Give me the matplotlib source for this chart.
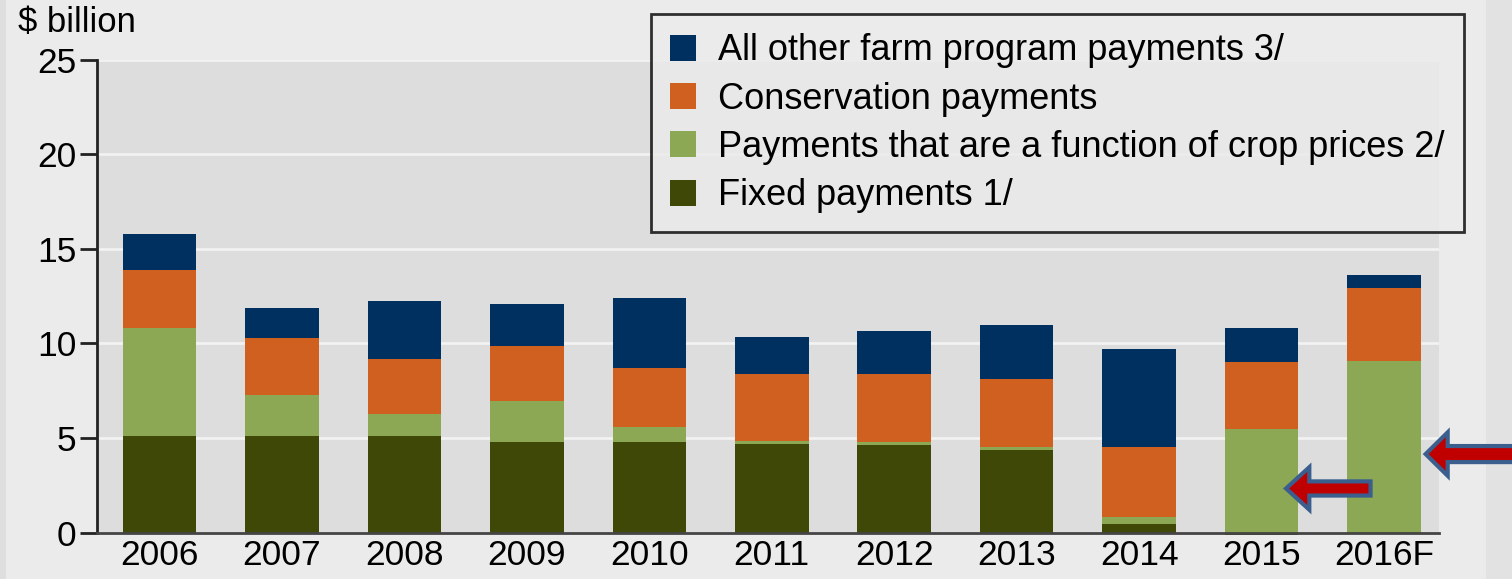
import numpy as np
import matplotlib.pyplot as plt
from matplotlib.patches import FancyArrow, Patch, Rectangle

plt.rcParams['font.family'] = ['Liberation Sans', 'DejaVu Sans']

# data ($ billion)
years = ['2006', '2007', '2008', '2009', '2010', '2011', '2012', '2013', '2014', '2015', '2016F']
fixed = [5.1, 5.1, 5.1, 4.8, 4.8, 4.7, 4.65, 4.35, 0.45, -0.15, 0.0]
price = [5.7, 2.2, 1.15, 2.15, 0.8, 0.15, 0.15, 0.15, 0.35, 5.45, 9.1]
conservation = [3.1, 3.0, 2.95, 2.9, 3.1, 3.55, 3.6, 3.6, 3.7, 3.55, 3.85]
other = [1.9, 1.6, 3.05, 2.25, 3.7, 1.95, 2.25, 2.9, 5.2, 1.8, 0.65]

labels = ['All other farm program payments 3/', 'Conservation payments',
          'Payments that are a function of crop prices 2/', 'Fixed payments 1/']
colors = ['#00305f', '#d06020', '#8ca855', '#404808']

bg = '#ebebeb'
fig = plt.figure(figsize=(15.12, 5.79), dpi=100, facecolor=bg)
# slightly darker bands at the picture edges
fig.patches.append(Rectangle((0, 0), 0.004, 1, transform=fig.transFigure,
                             facecolor='#dedede', edgecolor='none', zorder=-1))
fig.patches.append(Rectangle((0.983, 0), 0.017, 1, transform=fig.transFigure,
                             facecolor='#e2e2e2', edgecolor='none', zorder=-1))

ax = fig.add_axes([0.0642, 0.0803, 0.8876, 0.8161])
ax.set_facecolor('#dddddd')

x = np.arange(len(years))
w = 0.6
fixed = np.array(fixed)
price = np.array(price)
conservation = np.array(conservation)
other = np.array(other)

b1 = np.maximum(fixed, 0)
b2 = b1 + price
b3 = b2 + conservation
ax.bar(x, fixed, w, color=colors[3], zorder=3, clip_on=False)
ax.bar(x, price, w, bottom=b1, color=colors[2], zorder=3)
ax.bar(x, conservation, w, bottom=b2, color=colors[1], zorder=3)
ax.bar(x, other, w, bottom=b3, color=colors[0], zorder=3)

ax.set_xlim(-0.51, 10.45)
ax.set_ylim(0, 25)
ax.set_yticks([0, 5, 10, 15, 20, 25])
ax.set_xticks(x)
ax.set_xticklabels(years)
ax.grid(axis='y', color='#f2f2f2', linewidth=2, zorder=1)
ax.tick_params(axis='y', length=12, width=2, labelsize=25.5, pad=3, color='#222222')
ax.tick_params(axis='x', length=0, labelsize=25.5, pad=5)
for s in ['top', 'right']:
    ax.spines[s].set_visible(False)
ax.spines['left'].set_linewidth(2)
ax.spines['left'].set_color('#222222')
ax.spines['bottom'].set_linewidth(2)
ax.spines['bottom'].set_color('#444444')
ax.spines['bottom'].set_zorder(4)

fig.text(0.012, 0.932, '$ billion', fontsize=25, ha='left', va='bottom')

handles = [Patch(facecolor=c) for c in colors]
leg = fig.legend(handles, labels, loc='upper right', bbox_to_anchor=(0.968, 0.975),
                 fontsize=26, frameon=True, fancybox=False, facecolor=bg,
                 edgecolor='black', handlelength=0.72, handleheight=0.72,
                 handletextpad=0.62, labelspacing=0.37, borderpad=0.52,
                 borderaxespad=0)
leg.get_frame().set_linewidth(2)

# arrows pointing to 2015 and 2016F
a1 = FancyArrow(9.89, 2.33, -0.69, 0, width=0.75, head_width=2.25, head_length=0.19,
                length_includes_head=True, facecolor='#c00000', edgecolor='#3a5f8f',
                linewidth=3, zorder=5, clip_on=False)
a2 = FancyArrow(11.2, 4.15, -0.86, 0, width=0.85, head_width=2.3, head_length=0.18,
                length_includes_head=True, facecolor='#c00000', edgecolor='#3a5f8f',
                linewidth=3, zorder=5, clip_on=False)
ax.add_patch(a1)
ax.add_patch(a2)

fig.savefig('out.png', dpi=100, facecolor=bg)
